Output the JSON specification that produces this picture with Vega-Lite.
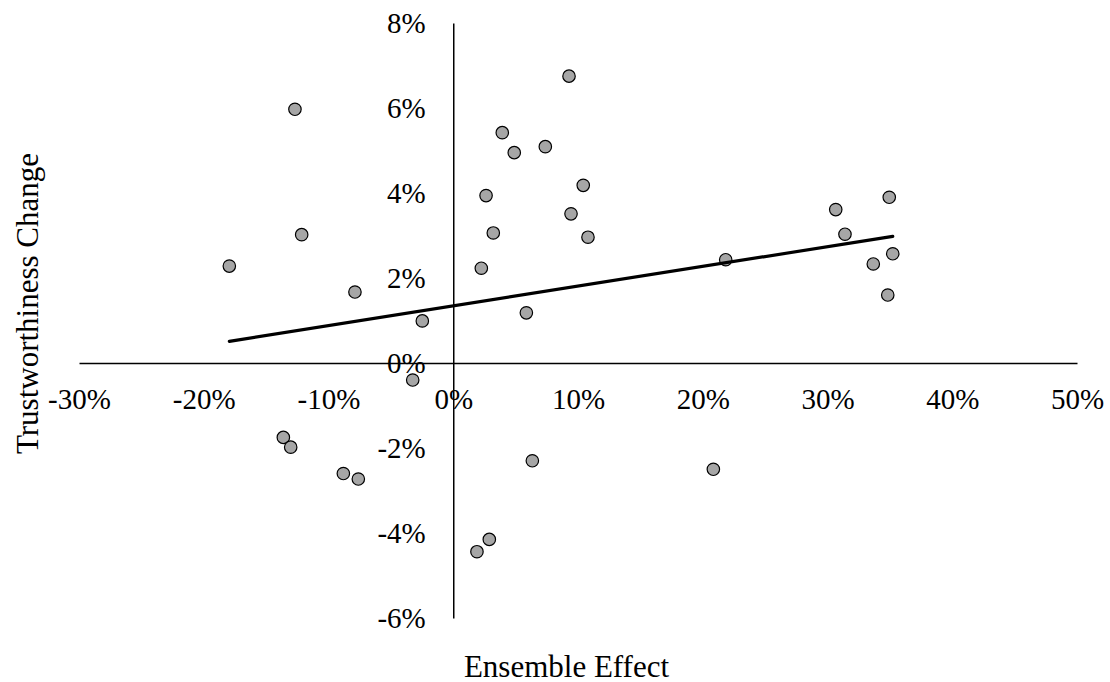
{
  "$schema": "https://vega.github.io/schema/vega-lite/v6.json",
  "width": 998,
  "height": 595,
  "autosize": {"type": "none"},
  "padding": {"left": 79, "top": 23, "right": 33, "bottom": 64},
  "background": "white",
  "config": {
    "view": {"stroke": null},
    "font": "Liberation Serif",
    "axis": {"labelFlush": false, "labelOverlap": false, "labelBound": false, "grid": false, "ticks": false, "tickSize": 0}
  },
  "datasets": {
    "points": [
      {"ensemble_effect": -12.69, "trust_change": 5.97},
      {"ensemble_effect": -12.15, "trust_change": 3.02},
      {"ensemble_effect": -17.95, "trust_change": 2.28},
      {"ensemble_effect": -7.88, "trust_change": 1.67},
      {"ensemble_effect": 9.28, "trust_change": 6.75},
      {"ensemble_effect": 3.93, "trust_change": 5.42},
      {"ensemble_effect": 4.89, "trust_change": 4.95},
      {"ensemble_effect": 7.38, "trust_change": 5.09},
      {"ensemble_effect": 10.42, "trust_change": 4.18},
      {"ensemble_effect": 2.63, "trust_change": 3.94},
      {"ensemble_effect": 9.44, "trust_change": 3.51},
      {"ensemble_effect": 3.21, "trust_change": 3.06},
      {"ensemble_effect": 10.8, "trust_change": 2.96},
      {"ensemble_effect": 2.25, "trust_change": 2.23},
      {"ensemble_effect": 21.84, "trust_change": 2.43},
      {"ensemble_effect": 5.86, "trust_change": 1.18},
      {"ensemble_effect": -2.48, "trust_change": 0.99},
      {"ensemble_effect": 34.95, "trust_change": 3.9},
      {"ensemble_effect": 30.66, "trust_change": 3.61},
      {"ensemble_effect": 31.4, "trust_change": 3.03},
      {"ensemble_effect": 35.23, "trust_change": 2.57},
      {"ensemble_effect": 33.67, "trust_change": 2.33},
      {"ensemble_effect": 34.83, "trust_change": 1.6},
      {"ensemble_effect": -13.62, "trust_change": -1.75},
      {"ensemble_effect": -13.03, "trust_change": -1.98},
      {"ensemble_effect": -8.81, "trust_change": -2.6},
      {"ensemble_effect": -7.61, "trust_change": -2.73},
      {"ensemble_effect": -3.25, "trust_change": -0.4},
      {"ensemble_effect": 6.34, "trust_change": -2.3},
      {"ensemble_effect": 20.85, "trust_change": -2.5},
      {"ensemble_effect": 2.89, "trust_change": -4.15},
      {"ensemble_effect": 1.9, "trust_change": -4.44}
    ],
    "trend": [
      {"ensemble_effect": -17.95, "trust_change": 0.51},
      {"ensemble_effect": 35.23, "trust_change": 2.98}
    ]
  },
  "encoding": {
    "x": {
      "field": "ensemble_effect",
      "type": "quantitative",
      "scale": {"domain": [-30, 50], "nice": false, "zero": false},
      "axis": {
        "title": "Ensemble Effect",
        "orient": "bottom",
        "offset": -255,
        "values": [-30, -20, -10, 0, 10, 20, 30, 40, 50],
        "labelExpr": "datum.value + '%'",
        "domain": true,
        "domainColor": "#000",
        "domainWidth": 1.5,
        "labelFont": "Liberation Serif",
        "labelFontSize": 29,
        "labelColor": "#000",
        "labelPadding": 22,
        "titleFont": "Liberation Serif",
        "titleFontSize": 31,
        "titleFontWeight": "normal",
        "titleColor": "#000",
        "titleX": 487,
        "titleY": 313,
        "titleBaseline": "alphabetic",
        "titleAlign": "center"
      }
    },
    "y": {
      "field": "trust_change",
      "type": "quantitative",
      "scale": {"domain": [-6, 8], "nice": false, "zero": false},
      "axis": {
        "title": "Trustworthiness Change",
        "orient": "left",
        "offset": -374.25,
        "values": [-6, -4, -2, 0, 2, 4, 6, 8],
        "labelExpr": "datum.value + '%'",
        "domain": true,
        "domainColor": "#000",
        "domainWidth": 1.5,
        "labelFont": "Liberation Serif",
        "labelFontSize": 29,
        "labelColor": "#000",
        "labelPadding": 28,
        "titleFont": "Liberation Serif",
        "titleFontSize": 31,
        "titleFontWeight": "normal",
        "titleColor": "#000",
        "titleAngle": -90,
        "titleX": -416,
        "titleY": 280,
        "titleBaseline": "alphabetic",
        "titleAlign": "center"
      }
    }
  },
  "layer": [
    {
      "data": {"name": "points"},
      "mark": {"type": "point", "shape": "circle", "filled": true, "fill": "#a6a6a6", "stroke": "#000", "strokeWidth": 1.2, "size": 155, "opacity": 1}
    },
    {
      "data": {"name": "trend"},
      "mark": {"type": "line", "color": "#000", "strokeWidth": 3.2, "strokeCap": "round"}
    }
  ]
}
